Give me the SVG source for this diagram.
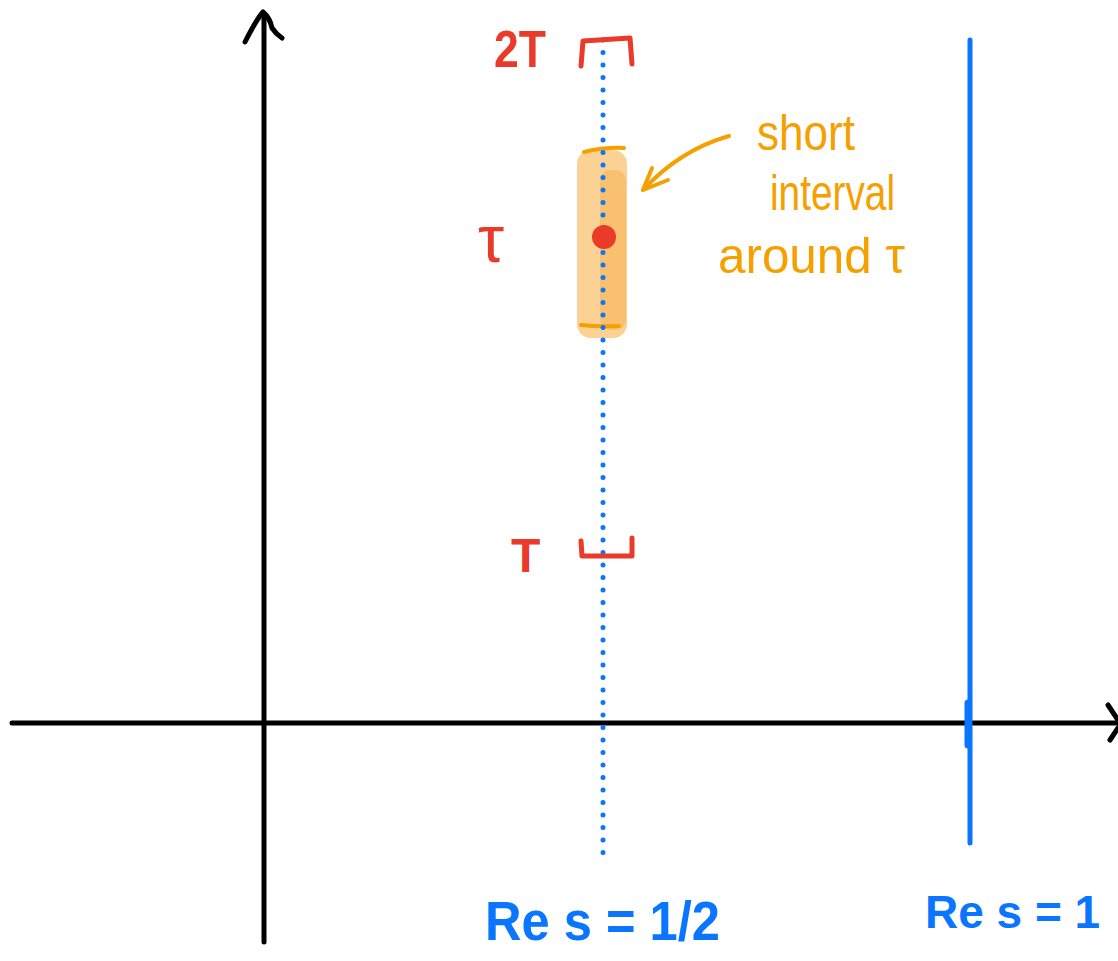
<svg xmlns="http://www.w3.org/2000/svg" width="1118" height="961" viewBox="0 0 1118 961">
<style>
.ax{stroke:#000;stroke-width:5;fill:none;stroke-linecap:round;stroke-linejoin:round}
.red{fill:#e93a2a;font-family:"Liberation Sans",sans-serif;font-weight:bold}
.redl{stroke:#e93a2a;stroke-width:5;fill:none;stroke-linecap:round;stroke-linejoin:round}
.or{fill:#f5a000;font-family:"Liberation Sans",sans-serif;font-size:50px}
.orl{stroke:#f5a000;stroke-width:4;fill:none;stroke-linecap:round;stroke-linejoin:round}
.bl{fill:#0a75ff;font-family:"Liberation Sans",sans-serif;font-weight:bold;font-size:56px}
</style>
<rect width="1118" height="961" fill="#fff"/>
<g id="axes">
<path class="ax" d="M264 942 L264 14"/>
<path class="ax" d="M245 42 Q256 20 263 12 Q270 18 272 28 Q276 34 282 38"/>
<path class="ax" d="M12 723 L1118 723"/>
<path class="ax" d="M1108 705 L1118 720 M1110 740 L1118 728"/>
</g>
<g id="interval">
<rect x="577" y="150" width="50" height="188" rx="14" fill="#f9c170" opacity="0.75"/>
<rect x="600" y="170" width="26" height="160" rx="10" fill="#f8b24a" opacity="0.5"/>
<path class="orl" d="M584 152 Q605 147 624 148" stroke-width="6"/>
<path class="orl" d="M581 325 Q600 327 619 326" stroke-width="6"/>
</g>
<g id="line-half">
<line x1="603" y1="40" x2="603" y2="855" stroke="#0a75ff" stroke-width="5" stroke-linecap="round" stroke-dasharray="0 12.5"/>
</g>
<g id="point-tau">
<circle cx="604" cy="237" r="12" fill="#e93a2a"/>
</g>
<g id="line-one">
<line x1="970" y1="40" x2="970" y2="843" stroke="#0a75ff" stroke-width="5" stroke-linecap="round"/>
<line x1="968" y1="703" x2="968" y2="745" stroke="#0a75ff" stroke-width="7" stroke-linecap="round"/>
</g>
<g id="label-2T">
<text class="red" x="494" y="67" font-size="52" textLength="52" lengthAdjust="spacingAndGlyphs">2T</text>
<path class="redl" d="M581 66 L583 41 L630 38 L632 64"/>
</g>
<g id="label-T">
<text class="red" x="511" y="572" font-size="48">T</text>
<path class="redl" d="M581 541 L582 556 L632 556 L632 538"/>
</g>
<g id="label-tau">
<text class="red" x="478" y="262" font-size="66" style="font-weight:normal">τ</text>
</g>
<g id="annotation">
<path class="orl" d="M729 136 Q680 150 643 190"/>
<path class="orl" d="M643 190 L652 168 M643 190 L668 180"/>
<text class="or" x="757" y="150" textLength="98" lengthAdjust="spacingAndGlyphs">short</text>
<text class="or" x="770" y="210" textLength="125" lengthAdjust="spacingAndGlyphs">interval</text>
<text class="or" x="718" y="273" font-size="44" textLength="187" lengthAdjust="spacingAndGlyphs">around τ</text>
</g>
<g id="label-half">
<text class="bl" x="485" y="940" textLength="235" lengthAdjust="spacingAndGlyphs">Re s = 1/2</text>
</g>
<g id="label-one">
<text class="bl" x="925" y="928" style="font-size:46px">Re s = 1</text>
</g>
</svg>
